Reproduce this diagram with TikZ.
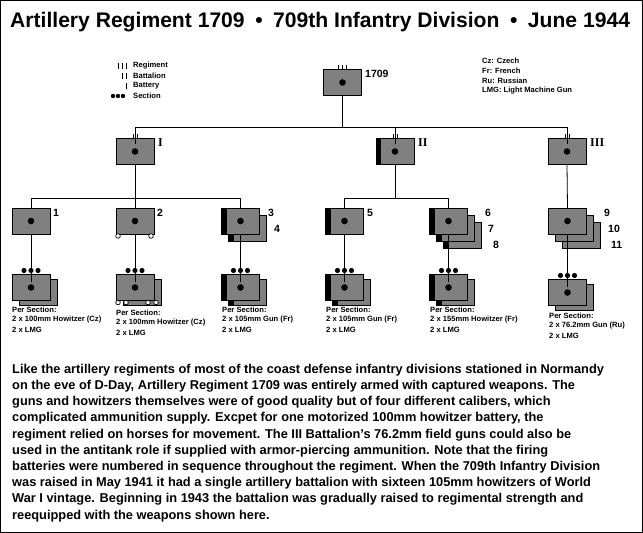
\documentclass[tikz,border=0pt]{standalone}
\usepackage{fontspec}
\setmainfont{Liberation Sans}
\definecolor{boxgray}{HTML}{808080}
\tikzset{
 box/.style={draw,fill=boxgray,minimum width=38pt,minimum height=26pt,inner sep=0pt,outer sep=0pt,line width=0.8pt},
 lbl/.style={font=\bfseries\fontsize{10.5}{12}\selectfont,anchor=west,inner sep=0pt},
 roman/.style={font=\fontspec{Liberation Serif}\bfseries\fontsize{12}{12}\selectfont,anchor=west,inner sep=0pt},
 small/.style={font=\bfseries\fontsize{7.6}{8}\selectfont,anchor=west,inner sep=0pt},
 para/.style={font=\bfseries\fontsize{12.8}{14}\selectfont,anchor=west,inner sep=0pt},
 ln/.style={line width=0.8pt}
}
\newcommand\ub[4]{%
 \node[box] (#1) at (#2,#3) {};
 \ifnum#4=1 \fill (#1.north west) rectangle ++(5,26);\fi
 \fill (#1.center) circle (3.3);}
\newcommand\secdots[1]{\foreach \d in {-7,0,7}{\fill ([xshift=\d pt,yshift=4pt]#1.north) circle (2.6);}}
\begin{document}
\begin{tikzpicture}[x=1pt,y=-1pt]
\useasboundingbox (0,0) rectangle (643,533);
\draw[line width=1pt] (0.5,0.5) rectangle (642.5,532.5);
\node[font=\bfseries\fontsize{21.1}{22}\selectfont,anchor=west,inner sep=0pt] (title) at (10,22) {Artillery Regiment 1709\enspace\textbullet\enspace 709th Infantry Division\enspace\textbullet\enspace June 1944};
% legend
\foreach \y/\n/\t in {66/3/Regiment,76/2/Battalion,86/1/Battery}{
 \foreach \k in {1,...,\n}{\draw[line width=0.7pt] ({130-4*\k},\y-3) -- ++(0,6);}
 \node[small] (lg\n) at (133,\y) {\t};}
\foreach \k in {0,1,2}{\fill ({113+5*\k},96) circle (2.2);}
\node[small] (lgs) at (133,96) {Section};
\node[small] (r1) at (482,61) {Cz: Czech};
\node[small] (r2) at (482,71) {Fr: French};
\node[small] (r3) at (482,81) {Ru: Russian};
\node[small] (r4) at (482,91) {LMG: Light Machine Gun};
% regiment
\ub{reg}{342.5}{82.5}{0}
\foreach \d in {-4,0,4}{\draw[ln] ([xshift=\d pt]reg.north) -- ++(0,-5);}
\node[lbl] (lreg) at (365,74) {1709};
% battalions
\ub{bn1}{135}{151.5}{0}
\ub{bn2}{395}{151.5}{1}
\ub{bn3}{567}{151.5}{0}
\node[roman] (lb1) at (158,143) {I};
\node[roman] (lb2) at (418,143) {II};
\node[roman] (lb3) at (590,143) {III};
\coordinate (h1) at (135,127);
\coordinate (h3) at (567,127);
\draw[ln] (reg.south) -- (reg.south |- h1);
\draw[ln] (h1) -- (h3);
\foreach \b in {bn1,bn2,bn3}{
 \draw[ln] (\b.north |- h1) -- ([yshift=-5pt]\b.north);
 \foreach \d in {-2,2}{\draw[ln] ([xshift=\d pt]\b.north) -- ++(0,-5);}}
% batteries
\node[box] (bt3s) at (247.5,228) {}; \fill (bt3s.north west) rectangle ++(5,26);
\ub{bt1}{31}{221}{0}
\ub{bt2}{135}{221}{0}
\ub{bt3}{240.5}{221}{1}
\ub{bt5}{344.5}{221}{1}
\node[box] (bt6s2) at (462.5,235) {}; \fill (bt6s2.north west) rectangle ++(5,26);
\node[box] (bt6s1) at (455.5,228) {}; \fill (bt6s1.north west) rectangle ++(5,26);
\ub{bt6}{448.5}{221}{1}
\node[box] (bt9s2) at (581.5,235) {};
\node[box] (bt9s1) at (574.5,228) {};
\ub{bt9}{567.5}{221}{0}
\foreach \x in {118,151}{\draw[line width=0.7pt,fill=white] (\x,236) circle (2.3);}
\node[lbl] (l1) at (53,213) {1};
\node[lbl] (l2) at (157,213) {2};
\node[lbl] (l3) at (268,213) {3};
\node[lbl] (l4) at (274,229) {4};
\node[lbl] (l5) at (367,213) {5};
\node[lbl] (l6) at (485,213) {6};
\node[lbl] (l7) at (488,229) {7};
\node[lbl] (l8) at (493,245) {8};
\node[lbl] (l9) at (604,213) {9};
\node[lbl] (l10) at (608,229) {10};
\node[lbl] (l11) at (611,245) {11};
\coordinate (g1) at (31,198); \coordinate (g2) at (240.5,198);
\coordinate (g3) at (344.5,198); \coordinate (g4) at (448.5,198);
\draw[ln] (bn1.south) -- (bn1.south |- g1);
\draw[ln] (g1) -- (g2);
\draw[ln] (bn2.south) -- (bn2.south |- g3);
\draw[ln] (g3) -- (g4);
\foreach \b in {bt1,bt2,bt3}{\draw[ln] (\b.north |- g1) -- (\b.north);}
\foreach \b in {bt5,bt6}{\draw[ln] (\b.north |- g3) -- (\b.north);}
\draw[ln] (bn3.south) -- (bt9.north);
% sections
\foreach \n/\x/\y/\bar in {1/31/287.5/0,2/135/287.5/0,3/240.5/287.5/1,5/344.5/287.5/1,6/448.5/287.5/1,9/567.5/292.5/0}{
 \node[box] (sc\n s) at (\x+7,\y+5) {};
 \ifnum\bar=1 \fill (sc\n s.north west) rectangle ++(5,26);\fi
 \ub{sc\n}{\x}{\y}{\bar}
 \secdots{sc\n}
 \draw[ln] (bt\n.south) -- ([yshift=-7pt]sc\n.north);}
\foreach \x in {118,126,148,156}{\draw[line width=0.7pt,fill=white] (\x,302.5) circle (2.3);}
% texts
\foreach \n/\x/\y/\a in {1/12/310/2 x 100mm Howitzer (Cz),2/116/313/2 x 100mm Howitzer (Cz),3/222/310/2 x 105mm Gun (Fr),5/326/310/2 x 105mm Gun (Fr),6/430/310/2 x 155mm Howitzer (Fr),9/549/316/2 x 76.2mm Gun (Ru)}{
 \node[small] (ta\n) at (\x,\y) {Per Section:};
 \node[small] (tb\n) at (\x,\y+10) {\a};
 \node[small] (tc\n) at (\x,\y+20) {2 x LMG};}
% paragraph
\foreach \i/\t in {
0/Like the artillery regiments of most of the coast defense infantry divisions stationed in Normandy,
1/on the eve of D-Day{,} Artillery Regiment 1709 was entirely armed with captured weapons. The,
2/guns and howitzers themselves were of good quality but of four different calibers{,} which,
3/complicated ammunition supply. Excpet for one motorized 100mm howitzer battery{,} the,
4/regiment relied on horses for movement. The III Battalion's 76.2mm field guns could also be,
5/used in the antitank role if supplied with armor-piercing ammunition. Note that the firing,
6/batteries were numbered in sequence throughout the regiment. When the 709th Infantry Division,
7/was raised in May 1941 it had a single artillery battalion with sixteen 105mm howitzers of World,
8/War I vintage. Beginning in 1943 the battalion was gradually raised to regimental strength and,
9/reequipped with the weapons shown here.}{
 \node[para] (p\i) at (12,370+16.2*\i) {\t};}
\end{tikzpicture}
\end{document}
